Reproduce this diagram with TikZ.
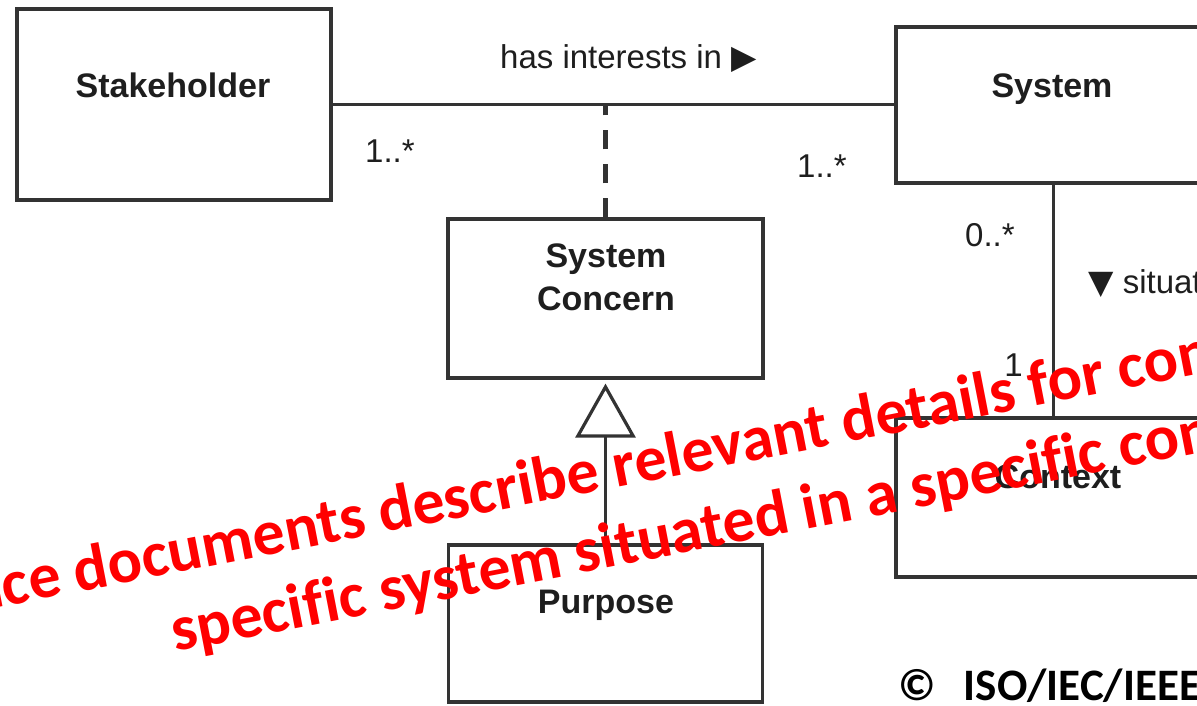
\documentclass[tikz,border=0pt]{standalone}
\usepackage{fontspec}
\setmainfont{Liberation Sans}
\newfontfamily\wmfont{Carlito}[Ligatures=NoCommon]
\newfontfamily\symfont{DejaVu Sans}
\usetikzlibrary{arrows.meta}
\definecolor{linegray}{HTML}{333333}
\definecolor{textgray}{HTML}{1E1E1E}
\definecolor{wmred}{HTML}{FF0000}
\begin{document}
\begin{tikzpicture}[x=1pt,y=-1pt,
  box/.style={draw=linegray, line width=3.2pt, fill=white, inner sep=0pt},
  cls/.style={font=\fontsize{34}{40}\selectfont\bfseries, text=textgray, inner sep=0pt},
  lbl/.style={font=\fontsize{33}{40}\selectfont, text=textgray, inner sep=0pt},
  conn/.style={draw=linegray, line width=3.2pt},
  wm/.style={font=\wmfont\fontsize{64}{78}\selectfont\bfseries, text=wmred, inner sep=0pt, anchor=base west, rotate=11},
]
\useasboundingbox (0,0) rectangle (1197,705);
\clip (0,0) rectangle (1197,705);
\fill[white] (0,0) rectangle (1197,705);

% boxes
\node[box, minimum width=314pt, minimum height=191pt] (stake) at (174,104.5) {};
\node[box, minimum width=315pt, minimum height=156pt] (sys) at (1053.5,105) {};
\node[box, minimum width=315pt, minimum height=159pt] (concern) at (605.5,298.5) {};
\node[box, minimum width=314pt, minimum height=157pt] (purpose) at (605.5,623.5) {};
\node[box, minimum width=315pt, minimum height=159pt] (ctx) at (1053.5,497.5) {};

% connectors
\draw[conn] (stake.east) -- (stake.east -| sys.west);
\draw[conn, line width=4.5pt, dash pattern=on 19pt off 15pt] (concern.north) -- (concern.north |- stake.east);
\draw[conn, -{Triangle[open, length=54pt, width=60pt]}, shorten >=4pt] (purpose.north) -- (concern.south);
\draw[conn] (sys.south) -- (ctx.north);

% class labels
\node[cls, anchor=base] (stakelbl) at (173,97) {Stakeholder};
\node[cls, anchor=base] (syslbl) at (1052,97) {System};
\node[cls, anchor=base] (conlbl1) at (606,267) {System};
\node[cls, anchor=base] (conlbl2) at (606,310) {Concern};
\node[cls, anchor=base] (purplbl) at (606,613) {Purpose};
\node[cls, anchor=base] (ctxlbl) at (1058,488) {Context};

% association labels
\node[lbl, anchor=base west] (assoc) at (500,68) {has interests in {\symfont ▶}};
\node[lbl, anchor=base west] (m1) at (365,162) {1..*};
\node[lbl, anchor=base west] (m2) at (797,177) {1..*};
\node[lbl, anchor=base west] (m3) at (965,246) {0..*};
\node[lbl, anchor=base east] (m4) at (1023,376) {1};
\node[lbl, anchor=base west] (sit) at (1088,293) {{\symfont ▼} situated in};

% watermark
\node[wm] (wm1) at (-28,612.6) {nce documents describe relevant details for concerns};
\node[wm] (wm2) at (175,652) {specific system situated in a specific context};

% copyright
\node[font=\wmfont\fontsize{45}{54}\selectfont\bfseries, anchor=base west, inner sep=0pt] (copy) at (898,700) {©\hspace{28pt}ISO/IEC/IEEE};
\end{tikzpicture}
\end{document}
